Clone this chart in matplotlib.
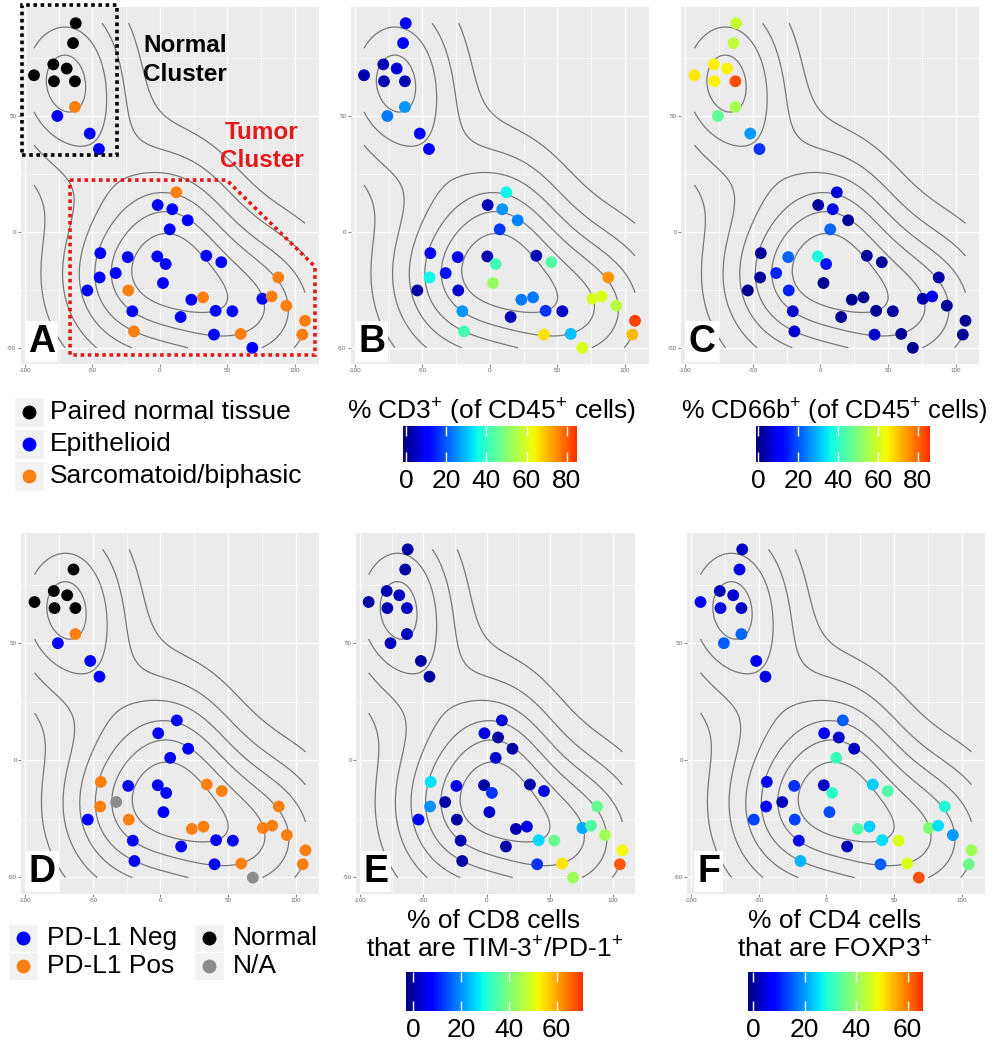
import numpy as np
import matplotlib
matplotlib.use('Agg')
import matplotlib.pyplot as plt
import matplotlib.cm as cm
from matplotlib.colors import LinearSegmentedColormap, Normalize
from matplotlib.patches import Rectangle, Polygon
from matplotlib.ticker import MaxNLocator

plt.rcParams['font.family'] = ['Liberation Sans', 'DejaVu Sans']
plt.rcParams['mathtext.fontset'] = 'custom'
plt.rcParams['mathtext.rm'] = 'Liberation Sans'
plt.rcParams['mathtext.it'] = 'Liberation Sans:italic'
plt.rcParams['mathtext.bf'] = 'Liberation Sans:bold'
plt.rcParams['axes.unicode_minus'] = False

# t-SNE coordinates of the samples
tsne_x = [-62.4, -64.4, -79.0, -69.1, -93.3, -78.5, -63.0, -63.0, -76.0, -52.0, -45.2,
          12.1, -1.7, 9.1, 20.5, 7.2, -44.2, -23.9, -2.0, 4.2, 34.3, 45.4,
          -32.8, -44.7, 87.6, 2.2, -53.8, -23.5, 23.2, 31.9, 75.8, 82.7, 93.6,
          -20.5, 41.2, 53.6, 15.3, 107.4, -19.3, 40.0, 59.8, 105.4, 68.4]
tsne_y = [90.2, 81.6, 72.4, 70.6, 67.7, 65.1, 65.1, 54.0, 50.1, 42.5, 35.8,
          17.1, 11.6, 9.8, 5.0, 1.1, -9.2, -10.9, -10.6, -13.9, -10.3, -13.1,
          -17.8, -19.7, -19.7, -22.1, -25.3, -25.3, -29.3, -28.3, -28.9, -27.9, -31.9,
          -34.3, -34.1, -34.3, -36.8, -38.4, -43.0, -44.4, -44.1, -44.4, -50.1]

# N = paired normal, E = epithelioid, S = sarcomatoid/biphasic
histology = ['N', 'N', 'N', 'N', 'N', 'N', 'N', 'S', 'E', 'E', 'E',
             'S', 'E', 'E', 'E', 'E', 'E', 'E', 'E', 'E', 'E', 'E',
             'E', 'E', 'S', 'E', 'E', 'S', 'E', 'S', 'E', 'S', 'S',
             'E', 'E', 'E', 'E', 'S', 'S', 'E', 'S', 'S', 'E']

# PD-L1 status, '' = sample not shown in panel D
pdl1 = ['', 'normal', 'normal', 'normal', 'normal', 'normal', 'normal', 'pos', 'neg', 'neg', 'neg',
        'neg', 'neg', '', 'neg', 'neg', 'pos', 'neg', 'neg', 'neg', 'pos', 'pos',
        'na', 'pos', 'pos', 'neg', 'neg', 'pos', 'pos', 'pos', 'pos', 'pos', 'pos',
        'neg', 'neg', 'neg', 'neg', 'pos', 'neg', 'neg', 'pos', 'pos', 'na']

cd3 = [9, 10, 4, 6, 3, 3, 3, 26, 23, 12, 10,
       36, 4, 26, 24, 17, 12, 8, 3, 42, 3, 44,
       13, 36, 74, 52, 2, 6, 23, 23, 60, 60, 56,
       26, 16, 5, 4, 83, 42, 66, 30, 70, 60]
cd66b = [59, 58, 65, 65, 66, 65, 82, 55, 46, 27, 17,
         7, 2, 10, 2, 22, 2, 22, 38, 14, 2, 2,
         15, 2, 3, 1, 1, 15, 1, 1, 3, 9, 2,
         6, 1, 2, 2, 1, 6, 6, 1, 2, 1]
tim3_pd1 = [0, 0, 1, 2, 0, 1, 2, 2, 2, 0, 0,
            4, 5, 0, 0, 3, 27, 5, 0, 12, 0, 5,
            0, 20, 38, 3, 8, 0, 1, 5, 22, 36, 44,
            1, 26, 38, 0, 52, 0, 12, 54, 67, 44]
foxp3 = [3, 5, 2, 4, 6, 5, 3, 16, 15, 6, 5,
         15, 8, 4, 3, 31, 8, 12, 3, 30, 24, 33,
         2, 8, 29, 14, 13, 13, 34, 24, 38, 25, 20,
         7, 25, 47, 2, 41, 22, 15, 47, 36, 63]

hist_labels = ['Paired normal tissue', 'Epithelioid', 'Sarcomatoid/biphasic']
pdl1_labels = ['PD-L1 Neg', 'PD-L1 Pos', 'Normal', 'N/A']
cb_ticks_80 = [0, 20, 40, 60, 80]
cb_ticks_60 = [0, 20, 40, 60]

blue, orange, grey = '#0000FF', '#FF8010', '#8C8C8C'
hist_col = {'N': 'black', 'E': blue, 'S': orange}
pd_col = {'neg': blue, 'pos': orange, 'normal': 'black', 'na': grey}
jet = LinearSegmentedColormap.from_list('jet86', plt.cm.jet(np.linspace(0, 0.86, 256)))

W, H = 994, 1042
fig = plt.figure(figsize=(W / 100, H / 100), dpi=100)


def px_axes(x0, x1, y0, y1):
    return fig.add_axes([x0 / W, 1 - y1 / H, (x1 - x0) / W, (y1 - y0) / H])


# overlay in pixel coordinates for legends and titles
ov = px_axes(0, W, 0, H)
ov.set_xlim(0, W)
ov.set_ylim(H, 0)
ov.axis('off')

# 2d density (like MASS::kde2d used by geom_density2d)
x = np.array(tsne_x)
y = np.array(tsne_y)


def bw_nrd(v):
    q1, q3 = np.percentile(v, [25, 75])
    return 4 * 1.06 * min(np.std(v, ddof=1), (q3 - q1) / 1.34) * len(v) ** (-0.2)


hx, hy = 1.1 * bw_nrd(x) / 4, 1.1 * bw_nrd(y) / 4
gx = np.linspace(x.min(), x.max(), 100)
gy = np.linspace(y.min(), y.max(), 100)
kx = np.exp(-0.5 * ((gx[:, None] - x[None, :]) / hx) ** 2) / np.sqrt(2 * np.pi)
ky = np.exp(-0.5 * ((gy[:, None] - y[None, :]) / hy) ** 2) / np.sqrt(2 * np.pi)
z = (ky @ kx.T) / (len(x) * hx * hy)
levels = MaxNLocator(nbins=10, steps=[1, 2, 5, 10]).tick_values(z.min(), z.max())
levels = levels[(levels > z.min()) & (levels < z.max())]


def panel(box, letter):
    ax = px_axes(*box)
    ax.set_facecolor('#EBEBEB')
    ax.set_xlim(-103.3, 117.4)
    ax.set_ylim(-57.1, 97.2)
    ax.set_xticks([-100, -50, 0, 50, 100])
    ax.set_yticks([-50, 0, 50])
    ax.set_xticks([-75, -25, 25, 75], minor=True)
    ax.set_yticks([-25, 25, 75], minor=True)
    ax.grid(True, which='major', color='white', lw=0.9)
    ax.grid(True, which='minor', color='white', lw=0.45)
    ax.set_axisbelow(True)
    for s in ax.spines.values():
        s.set_visible(False)
    ax.tick_params(which='major', length=2, width=0.5, color='#555555',
                   labelsize=4.5, labelcolor='#666666', pad=1)
    ax.tick_params(which='minor', length=0)
    ax.contour(gx, gy, z, levels=levels, colors='#7a7a7a', linewidths=0.9, zorder=2)
    ax.text(0.072, 0.062, letter, transform=ax.transAxes, fontsize=27, fontweight='bold',
            ha='center', va='center', zorder=6,
            bbox=dict(fc='white', ec='none', pad=2))
    return ax


def colorbar(x0, x1, y0, y1, vmin, vmax, ticks):
    cax = px_axes(x0, x1, y0, y1)
    sm = cm.ScalarMappable(norm=Normalize(vmin, vmax), cmap=jet)
    cb = fig.colorbar(sm, cax=cax, orientation='horizontal', ticks=ticks)
    cb.outline.set_visible(False)
    cax.tick_params(direction='in', length=7, width=1, color='white',
                    top=True, bottom=True, labelsize=19, pad=5)
    return cb


top = (7, 364)
bot = (533, 894)
dot = 72

# A: histology
axA = panel((20.5, 318.5) + top, 'A')
axA.scatter(x, y, c=[hist_col[h] for h in histology], s=dot, lw=0, zorder=3)
axA.add_patch(Rectangle((-102.2, 33.2), 70.4, 65.0, fill=False, ec='black', lw=2.6,
                        ls=(0, (1, 1)), clip_on=False, zorder=5))
axA.add_patch(Polygon([(-66.6, 22.4), (49.4, 22.4), (114.8, -15.0), (114.8, -53.2), (-66.6, -53.2)],
                      closed=True, fill=False, ec='#E3191C', lw=2.6, ls=(0, (1, 1)),
                      clip_on=False, zorder=5))
axA.text(-12.6, 74.3, 'Normal\nCluster', fontsize=17.5, fontweight='bold', ha='left',
         va='center', linespacing=1.3, zorder=5)
axA.text(75.5, 37.0, 'Tumor\nCluster', fontsize=17.5, fontweight='bold', color='#E3191C',
         ha='center', va='center', linespacing=1.3, zorder=5)

# B: CD3
axB = panel((350.5, 648.5) + top, 'B')
axB.scatter(x, y, c=cd3, cmap=jet, vmin=-1.5, vmax=85, s=dot, lw=0, zorder=3)

# C: CD66b
axC = panel((681, 979) + top, 'C')
axC.scatter(x, y, c=cd66b, cmap=jet, vmin=-1, vmax=86, s=dot, lw=0, zorder=3)

# D: PD-L1
axD = panel((21, 319) + bot, 'D')
keep = [i for i, p in enumerate(pdl1) if p]
axD.scatter(x[keep], y[keep], c=[pd_col[pdl1[i]] for i in keep], s=dot, lw=0, zorder=3)

# E: TIM-3/PD-1
axE = panel((356, 635) + bot, 'E')
axE.scatter(x, y, c=tim3_pd1, cmap=jet, vmin=-3, vmax=71, s=dot, lw=0, zorder=3)

# F: FOXP3
axF = panel((687, 985) + bot, 'F')
axF.scatter(x, y, c=foxp3, cmap=jet, vmin=-2, vmax=66, s=dot, lw=0, zorder=3)

# legend A
for row, lab, col in zip([412, 444, 476], hist_labels, ['black', blue, orange]):
    ov.add_patch(Rectangle((14, row - 15), 30, 30, fc='#F2F2F2', ec='white'))
    ov.plot(29, row, 'o', ms=10, color=col, mec='none')
    ov.text(50, row, lab, fontsize=19, va='center')

# legend D
for (kx_, row), lab, col in zip([(23, 938), (23, 966), (209, 938), (209, 966)], pdl1_labels,
                                [blue, orange, 'black', grey]):
    ov.add_patch(Rectangle((kx_ - 15, row - 14), 30, 28, fc='#F2F2F2', ec='white'))
    ov.plot(kx_, row, 'o', ms=10, color=col, mec='none')
    ov.text(kx_ + 24, row, lab, fontsize=19, va='center')

# colour bars
ov.text(492, 412, r'% CD3$^{+}$ (of CD45$^{+}$ cells)', fontsize=19, ha='center', va='center')
colorbar(403, 577, 426, 462, -1.5, 85, cb_ticks_80)
ov.text(834, 412, r'% CD66b$^{+}$ (of CD45$^{+}$ cells)', fontsize=18.3, ha='center', va='center')
colorbar(756, 930, 426, 462, -1, 86, cb_ticks_80)

ov.text(494, 921, '% of CD8 cells', fontsize=19, ha='center', va='center')
ov.text(494, 950, r'that are TIM-3$^{+}$/PD-1$^{+}$', fontsize=19, ha='center', va='center')
colorbar(406, 583, 972, 1011, -3, 71, cb_ticks_60)
ov.text(835, 921, '% of CD4 cells', fontsize=19, ha='center', va='center')
ov.text(835, 950, r'that are FOXP3$^{+}$', fontsize=19, ha='center', va='center')
colorbar(748, 923, 972, 1011, -2, 66, cb_ticks_60)

fig.savefig('out.png', dpi=100)
